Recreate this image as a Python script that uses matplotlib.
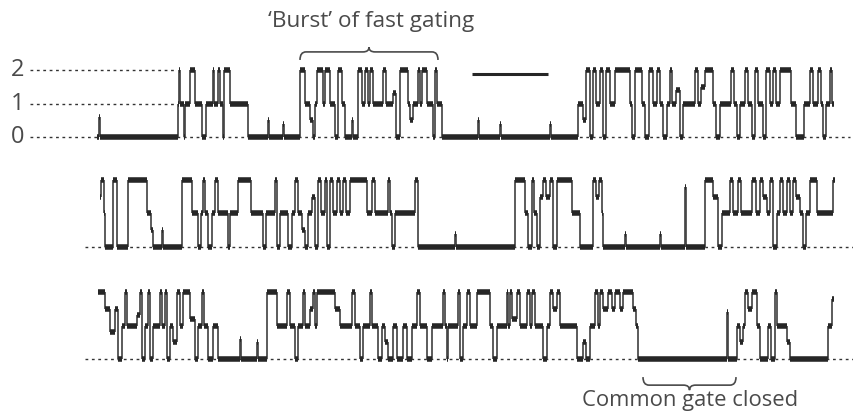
import numpy as np
import matplotlib
matplotlib.use("Agg")
from matplotlib import pyplot as plt
from matplotlib.path import Path
from matplotlib.patches import PathPatch

plt.rcParams['font.family'] = ['Open Sans', 'DejaVu Sans']

# single-channel current recordings: (segment start time, conductance level)
# time in ms from the start of each sweep, level 0 = closed, 1 and 2 = protopores open
trace1 = [(0, 0), (2, 0.6), (3, 0), (81, 1), (82, 2), (83, 1), (87, 0), (88, 1), (93, 2), (98, 1),
          (105, 0), (109, 1), (116, 2), (117, 1), (121, 2), (123, 1), (126, 0), (127, 2), (133, 1),
          (151, 0), (171, 0.5), (172, 0), (186, 0.4), (187, 0),
          (203, 2), (208, 1), (213, 0.5), (216, 0), (218, 1), (220, 2), (226, 1), (228, 2), (233, 1),
          (238, 0), (241, 2), (245, 1), (248, 0), (255, 0.5), (256, 0), (261, 2), (265, 1), (268, 2),
          (271, 1), (273, 2), (276, 1), (286, 2), (289, 1), (296, 1.3), (299, 0), (303, 2), (311, 1),
          (313, 0.5), (316, 1), (321, 2), (323, 1), (325, 2), (330, 1), (336, 0), (338, 2), (340, 1),
          (345, 0), (381, 0.5), (382, 0), (403, 0.4), (404, 0), (453, 0.4), (454, 0),
          (481, 1), (486, 0.5), (489, 2), (493, 0), (496, 2), (499, 1), (503, 2), (506, 0), (509, 2),
          (513, 1), (518, 2), (533, 1), (535, 0), (538, 2), (545, 1), (548, 0), (552, 2), (556, 1),
          (560, 2), (563, 1), (566, 0), (570, 1), (573, 2), (575, 1), (579, 1.4), (583, 0), (586, 1),
          (598, 2), (601, 1), (604, 1.5), (608, 2), (616, 1), (619, 0), (623, 1), (634, 2), (637, 1),
          (640, 0), (643, 1), (648, 2), (651, 1), (655, 0), (658, 2), (661, 1), (666, 0), (669, 2),
          (673, 1), (676, 2), (679, 1), (683, 2), (694, 1), (699, 0), (707, 1), (713, 2), (716, 1),
          (721, 2), (724, 1), (726, 0), (729, 1), (733, 2), (735, 1)]
trace1_end = 737

trace2 = [(3, 1.5), (4, 2), (7, 1), (8, 0), (16, 2), (20, 0), (31, 2), (50, 1), (54, 0.5), (56, 0),
          (65, 0.5), (66, 0), (85, 2), (95, 1), (101, 0), (104, 1), (106, 2), (108, 1), (111, 0),
          (115, 1), (118, 2), (121, 1), (131, 0), (133, 1), (141, 2), (154, 1), (166, 0), (169, 1),
          (178, 2), (180, 0), (183, 1), (191, 0), (195, 1), (198, 2), (201, 1), (205, 0.5), (208, 0),
          (211, 1), (215, 1.5), (218, 0), (221, 2), (224, 1), (228, 2), (230, 0), (233, 2), (236, 1),
          (240, 2), (243, 1), (246, 2), (249, 1), (253, 2), (270, 1), (275, 2), (278, 1), (291, 2),
          (293, 1), (295, 0), (298, 1), (318, 2), (321, 0), (358, 0.4), (359, 0),
          (418, 2), (428, 1), (431, 0), (435, 2), (437, 1), (440, 0), (443, 1.5), (446, 2), (449, 1.5),
          (453, 2), (456, 0), (460, 2), (475, 1), (483, 0), (496, 2), (499, 1.5), (502, 2), (505, 1),
          (506, 0), (528, 0.4), (529, 0), (563, 0.4), (564, 0), (588, 1.8), (589, 0),
          (608, 2), (616, 1.5), (621, 0), (625, 1), (633, 2), (636, 1), (641, 2), (644, 1), (655, 2),
          (659, 1), (663, 2), (666, 1.5), (670, 1), (673, 2), (676, 0), (680, 1), (683, 2), (686, 1),
          (690, 2), (693, 1), (696, 2), (699, 1.5), (703, 1), (706, 0), (709, 1), (713, 2), (720, 1),
          (736, 2)]
trace2_end = 738

trace3 = [(1, 2), (8, 1.5), (13, 0.8), (18, 1.5), (21, 0), (25, 1), (28, 2), (30, 1), (40, 1.3),
          (43, 2), (45, 0), (48, 1), (51, 2), (53, 0), (56, 1), (63, 2), (65, 1), (68, 2), (70, 0),
          (73, 1), (76, 0.5), (80, 2), (83, 1), (86, 2), (93, 1.2), (98, 0), (101, 1), (105, 2),
          (107, 1), (111, 0), (116, 1), (121, 0), (143, 0.6), (144, 0), (160, 0.5), (161, 0),
          (170, 2), (180, 1), (190, 2), (193, 1), (198, 0), (201, 1), (206, 2), (208, 1), (213, 1.5),
          (216, 2), (218, 1), (220, 2), (238, 1.5), (243, 1), (255, 2), (258, 1), (263, 0), (266, 1),
          (273, 2), (275, 1), (281, 0), (285, 1), (288, 0.5), (291, 0), (296, 1), (300, 0), (306, 1),
          (310, 0), (315, 1), (320, 2), (323, 1), (330, 0), (335, 1), (346, 2), (348, 1), (350, 0),
          (351, 1), (361, 2), (363, 0), (366, 1), (370, 2), (373, 1), (380, 2), (393, 1), (396, 0),
          (400, 1), (410, 2), (411, 1), (413, 2), (415, 1.2), (420, 2), (423, 1), (430, 2), (433, 1),
          (435, 2), (438, 1), (446, 0), (450, 1), (453, 2), (456, 1.5), (460, 2), (463, 1), (480, 0),
          (486, 0.5), (489, 0), (493, 1), (498, 2), (501, 1), (503, 2), (506, 1.5), (511, 2),
          (515, 1.5), (518, 2), (523, 1.5), (526, 2), (536, 1.5), (539, 1), (541, 0), (630, 1.4),
          (631, 0), (640, 1), (643, 0.5), (646, 1), (648, 2), (651, 1.5), (655, 2), (660, 1), (663, 0),
          (671, 1), (674, 0), (678, 2), (680, 1), (690, 0.5), (693, 0), (731, 1), (735, 1.8)]
trace3_end = 737

level_labels = ['0', '1', '2']
burst_span = (203, 341)       # 'Burst' of fast gating
closed_span = (546, 639)      # common gate closed
scale_bar = (375, 451)

ink = '#262626'
grey = '#4a4a4a'


def draw_trace(ax, events, t_end):
    starts = [e[0] for e in events]
    levels = [e[1] for e in events]
    ends = starts[1:] + [t_end]
    ax.hlines(levels, starts, ends, color=ink, lw=4.0, zorder=3)
    for i in range(1, len(events)):
        ax.vlines(starts[i], levels[i - 1], levels[i], color='#404040', lw=1.2, zorder=2)


def brace(ax, x0, x1, y_end, y_line, y_tip, r=6):
    xm = (x0 + x1) / 2
    verts = [(x0, y_end), (x0, y_line), (x0 + r, y_line), (xm - r, y_line), (xm, y_line),
             (xm, y_tip), (xm, y_line), (xm + r, y_line), (x1 - r, y_line), (x1, y_line), (x1, y_end)]
    codes = [Path.MOVETO, Path.CURVE3, Path.CURVE3, Path.LINETO, Path.CURVE3, Path.CURVE3,
             Path.CURVE3, Path.CURVE3, Path.LINETO, Path.CURVE3, Path.CURVE3]
    ax.add_patch(PathPatch(Path(verts, codes), fill=False, ec=grey, lw=1.2, clip_on=False))


fig = plt.figure(figsize=(8.54, 4.15), dpi=100)
W, H = 854, 415
px_per_level = 33.5
lo, hi = -0.9, 2.6
ax_h = (hi - lo) * px_per_level / H
axes = []
for base_px in (137, 247, 359):
    bottom = (H - base_px + lo * px_per_level) / H
    ax = fig.add_axes([0, bottom, 1, ax_h])
    ax.set_xlim(-97, W - 97)
    ax.set_ylim(lo, hi)
    ax.axis('off')
    ax.patch.set_alpha(0)
    axes.append(ax)

dot = dict(color='#333333', lw=1.0, ls=(0, (2, 2.6)), zorder=1)
ax1, ax2, ax3 = axes
ax1.plot([-67, 753], [0, 0], **dot)
for lvl in (1, 2):
    ax1.plot([-67, 79], [lvl, lvl], **dot)
for i, lab in enumerate(level_labels):
    ax1.text(-79, i, lab, ha='center', va='center', fontsize=17, color=grey, clip_on=False)
ax2.plot([-12, 757], [0, 0], **dot)
ax3.plot([-12, 757], [0, 0], **dot)

draw_trace(ax1, trace1, trace1_end)
draw_trace(ax2, trace2, trace2_end)
draw_trace(ax3, trace3, trace3_end)

ax1.plot(scale_bar, [1.88, 1.88], color=ink, lw=2.2, solid_capstyle='butt')

brace(ax1, burst_span[0], burst_span[1], 2.3, 2.54, 2.68)
brace(ax3, closed_span[0], closed_span[1], -0.54, -0.78, -0.93)

fig.text(371 / W, 1 - 22 / H, '\u2018Burst\u2019 of fast gating', ha='center', va='center',
         fontsize=16.2, color=grey)
fig.text(690 / W, 1 - 400 / H, 'Common gate closed', ha='center', va='center',
         fontsize=15.8, color=grey)

fig.savefig('out.png', dpi=100, facecolor='white')
